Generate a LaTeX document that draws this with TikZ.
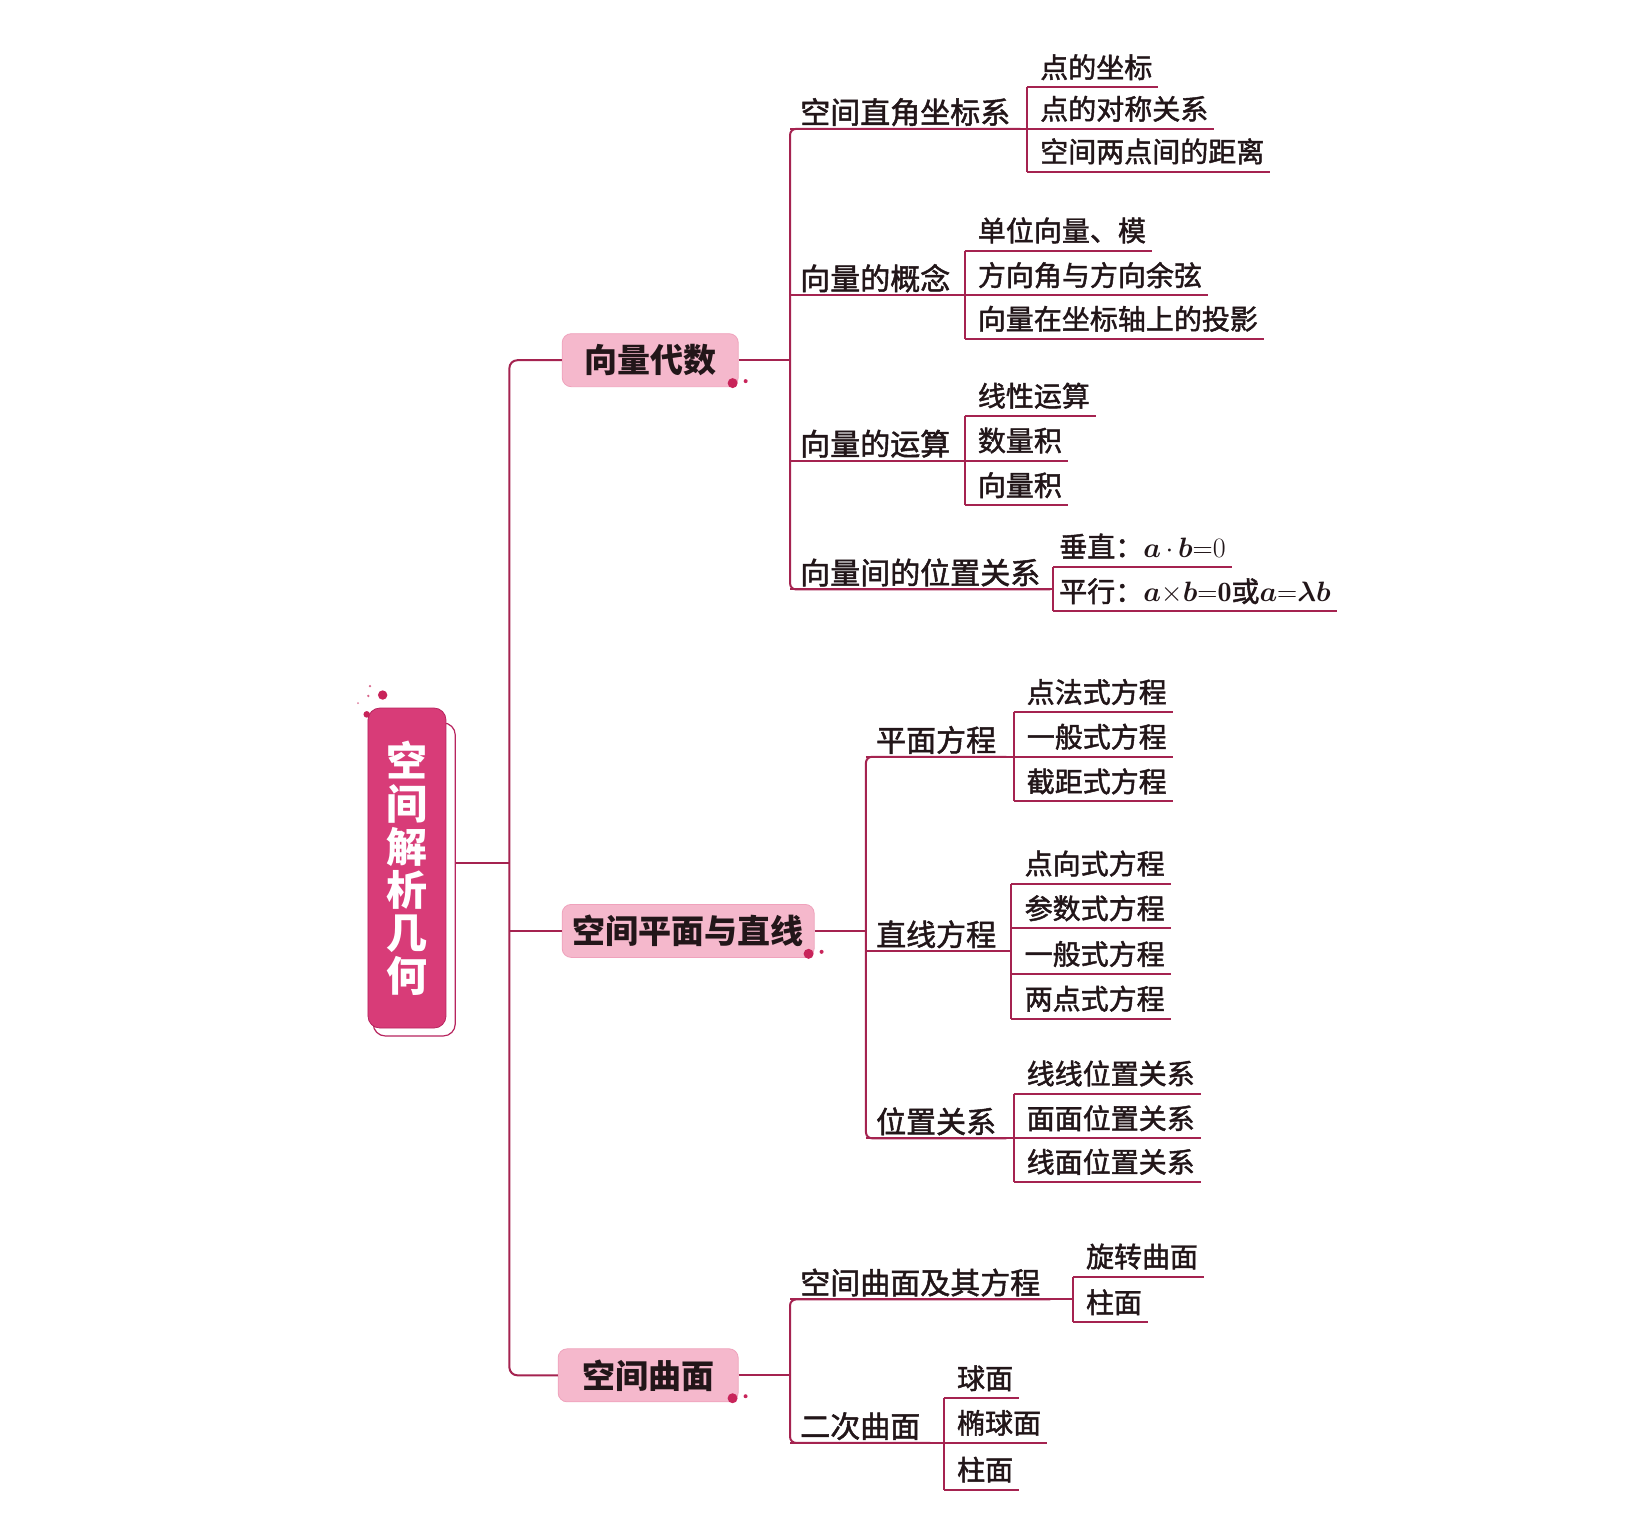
\RequirePackage{fix-cm}
\documentclass[tikz,border=0pt]{standalone}
\usepackage{amsmath,bm}
\usepackage{fontspec}
\newfontfamily\cjk{Noto Sans CJK SC}
\newfontfamily\cjkm{Noto Sans CJK SC}[FakeBold=1.6]
\definecolor{lnc}{HTML}{A52350}
\definecolor{pinkf}{HTML}{F5B8CC}
\definecolor{pinke}{HTML}{EFA2BC}
\definecolor{rootf}{HTML}{D83C78}
\definecolor{rootd}{HTML}{B7245E}
\definecolor{dotc}{HTML}{C8245A}
\definecolor{txt}{HTML}{221619}
\newcommand\myleaffont{\cjkm\fontsize{28}{30}\selectfont}
\newcommand\mysubfont{\cjkm\fontsize{30}{32}\selectfont}
\newcommand\mytopicfont{\cjk\bfseries\fontsize{33}{36}\selectfont}
\newcommand\myrootfont{\cjk\bfseries\fontsize{41}{43.1}\selectfont}
\tikzset{
  ln/.style={draw=lnc, line width=2pt},
  leafbase/.style={anchor=south west, inner xsep=6pt, inner ysep=8pt, text depth=0.12em, text height=0.88em,
     font=\myleaffont, text=txt},
  leafbox/.style={leafbase, execute at begin node={\hspace*{7pt}}},
  mathleaf/.style={leafbase},
  subbox/.style={anchor=south west, inner xsep=10pt, inner ysep=4pt, text depth=0.12em, text height=0.88em,
     font=\mysubfont, text=txt},
  topicbox/.style={fill=pinkf, draw=pinke, line width=0.8pt, rounded corners=9pt, inner sep=0pt,
     minimum height=53pt, font=\mytopicfont, text=txt},
}
\begin{document}
\begin{tikzpicture}[x=1.0395pt,y=-1.0395pt]
\fill[white] (0,0) rectangle (1568,1470);
\useasboundingbox (0,0) rectangle (1568,1470);

% root
\node[draw=rootd, line width=1.2pt, fill=white, rounded corners=12pt, minimum width=82pt, minimum height=313pt] (rootback) at (398.5,846) {};
\node[fill=rootf, draw=rootd, line width=0.8pt, rounded corners=12pt, minimum width=78pt, minimum height=320pt,
      font=\myrootfont, text=white, align=center, inner sep=0pt] (root) at (391.5,835) {空\\间\\解\\析\\几\\何};
\fill[dotc] (368.1,668.6) circle (4.7pt);
\fill[dotc] (352.8,687.2) circle (3.3pt);
\fill[dotc!70] (355.9,660) circle (1.3pt);
\fill[dotc!70] (354.3,669.5) circle (1.3pt);
\fill[dotc!60] (344.4,676.3) circle (1pt);

% level 1
\node[topicbox, minimum width=176pt] (n1) at (625.5,346.5) {向量代数};
\node[topicbox, minimum width=252pt] (n2) at (662,895.5) {空间平面与直线};
\node[topicbox, minimum width=180pt] (n3) at (623.5,1323) {空间曲面};
\foreach \n in {n1,n2,n3}{
  \fill[dotc] ([xshift=-6pt,yshift=4pt]\n.south east) circle (5pt);
  \fill[dotc] ([xshift=7pt,yshift=6pt]\n.south east) circle (2pt);
}

% main trunk
\coordinate (J) at (490,830);
\draw[ln] (rootback.east |- J) -- (J);
\draw[ln, rounded corners=8pt] (n1.west) -- (n1.west -| J) -- (n3.west -| J) -- (n3.west);
\draw[ln] (n2.west -| J) -- (n2.west);

% ===== 向量代数 =====
\node[subbox] (pA) at (760,124) {空间直角坐标系};
\node[leafbox] (a1) at (988,84) {点的坐标};
\node[leafbox] (a2) at (988,124) {点的对称关系};
\node[leafbox] (a3) at (988,165) {空间两点间的距离};

\node[subbox] (pB) at (760,284) {向量的概念};
\node[leafbox] (b1) at (928,241) {单位向量、模};
\node[leafbox] (b2) at (928,284) {方向角与方向余弦};
\node[leafbox] (b3) at (928,326) {向量在坐标轴上的投影};

\node[subbox] (pC) at (760,443) {向量的运算};
\node[leafbox] (c1) at (928,400) {线性运算};
\node[leafbox] (c2) at (928,443) {数量积};
\node[leafbox] (c3) at (928,486) {向量积};

\node[subbox] (pD) at (760,567) {向量间的位置关系};
\node[mathleaf] (d1) at (1013,545) {垂直：$\bm{a}\,{\cdot}\,\bm{b}{=}0$};
\node[mathleaf] (d2) at (1013,588) {平行：$\bm{a}{\times}\bm{b}{=}\mathbf{0}$或$\bm{a}{=}\bm{\lambda}\bm{b}$};

\draw[ln] (n1.east) -- (n1.east -| pA.south west);
\draw[ln, rounded corners=6pt] (pA.south east) -- (pA.south west) -- (pD.south west) -- (pD.south east);

% ===== 空间平面与直线 =====
\node[subbox] (pE) at (833,728) {平面方程};
\node[leafbox] (e1) at (975,685) {点法式方程};
\node[leafbox] (e2) at (975,728) {一般式方程};
\node[leafbox] (e3) at (975,771) {截距式方程};

\node[subbox] (pF) at (833,915) {直线方程};
\node[leafbox] (f1) at (973,850) {点向式方程};
\node[leafbox] (f2) at (973,893) {参数式方程};
\node[leafbox] (f3) at (973,937) {一般式方程};
\node[leafbox] (f4) at (973,980) {两点式方程};

\node[subbox] (pG) at (833,1095) {位置关系};
\node[leafbox] (g1) at (975,1052) {线线位置关系};
\node[leafbox] (g2) at (975,1095) {面面位置关系};
\node[leafbox] (g3) at (975,1137) {线面位置关系};

\draw[ln] (n2.east) -- (n2.east -| pE.south west);
\draw[ln, rounded corners=6pt] (pE.south east) -- (pE.south west) -- (pG.south west) -- (pG.south east);

% ===== 空间曲面 =====
\node[subbox] (pH) at (760,1250) {空间曲面及其方程};
\node[leafbox] (h1) at (1032,1228) {旋转曲面};
\node[leafbox] (h2) at (1032,1272) {柱面};

\node[subbox] (pI) at (760,1388) {二次曲面};
\node[leafbox] (i1) at (908,1345) {球面};
\node[leafbox] (i2) at (908,1388) {椭球面};
\node[leafbox] (i3) at (908,1433) {柱面};

\draw[ln] (n3.east) -- (n3.east -| pH.south west);
\draw[ln, rounded corners=6pt] (pH.south east) -- (pH.south west) -- (pI.south west) -- (pI.south east);

% parent underlines to brackets
\draw[ln] (pA.south west) -- (pA.south west -| a1.south west);
\draw[ln] (pB.south west) -- (pB.south west -| b1.south west);
\draw[ln] (pC.south west) -- (pC.south west -| c1.south west);
\draw[ln] (pD.south west) -- (pD.south west -| d1.south west);
\draw[ln] (pE.south west) -- (pE.south west -| e1.south west);
\draw[ln] (pF.south west) -- (pF.south west -| f1.south west);
\draw[ln] (pG.south west) -- (pG.south west -| g1.south west);
\draw[ln] (pH.south west) -- (pH.south west -| h1.south west);
\draw[ln] (pI.south west) -- (pI.south west -| i1.south west);

% brackets
\draw[ln] (a1.south west) -- (a3.south west);
\draw[ln] (b1.south west) -- (b3.south west);
\draw[ln] (c1.south west) -- (c3.south west);
\draw[ln] (d1.south west) -- (d2.south west);
\draw[ln] (e1.south west) -- (e3.south west);
\draw[ln] (f1.south west) -- (f4.south west);
\draw[ln] (g1.south west) -- (g3.south west);
\draw[ln] (h1.south west) -- (h2.south west);
\draw[ln] (i1.south west) -- (i3.south west);

% leaf underlines
\foreach \l in {a1,a2,a3,b1,b2,b3,c1,c2,c3,d1,d2,e1,e2,e3,f1,f2,f3,f4,g1,g2,g3,h1,h2,i1,i2,i3}{
  \draw[ln] (\l.south west) -- (\l.south east);
}
\end{tikzpicture}
\end{document}
